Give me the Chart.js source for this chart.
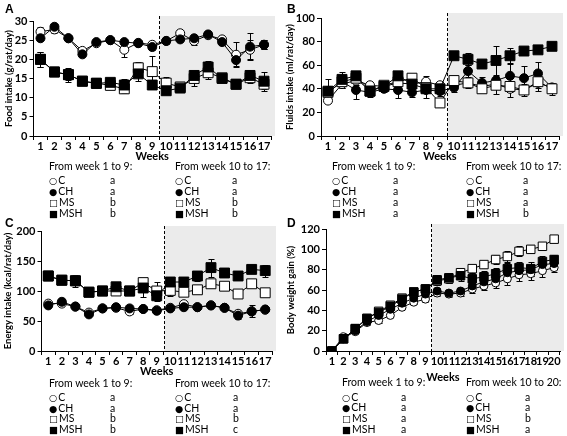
<!DOCTYPE html>
<html><head><meta charset="utf-8">
<script src="https://cdn.jsdelivr.net/npm/chart.js@4.4.1/dist/chart.umd.min.js"></script>
<style>
body{margin:0;background:#fff;width:567px;height:436px;position:relative;overflow:hidden;}
canvas{position:absolute;}
.lbl{position:absolute;font:bold 12px "Liberation Sans",Arial,sans-serif;color:#000;}
.lg{position:absolute;font:10.5px Lato,sans-serif;color:#000;white-space:nowrap;line-height:12px;}
.sym{font:9.5px "DejaVu Sans",sans-serif;margin-right:1px;}
</style></head><body>
<script>
// ---------------- DATA ----------------
const weeks17 = ['1','2','3','4','5','6','7','8','9','10','11','12','13','14','15','16','17'];
const weeks20 = ['1','2','3','4','5','6','7','8','9','10','11','12','13','14','15','16','17','18','19','20'];
const groups = ['C','CH','MS','MSH'];
const groupSymbols = ['○','●','□','■'];

// A: Food intake (g/rat/day)
const foodC   = [27.2,27.8,25.5,22.2,24.2,25.0,22.5,24.3,23.8,24.8,26.8,24.8,26.3,25.2,21.2,22.5,23.8];
const foodCH  = [25.5,28.5,25.5,21.3,24.5,25.0,24.5,24.2,23.2,24.8,25.2,25.5,26.5,24.5,19.8,23.3,23.8];
const foodMS  = [20.0,16.7,16.0,14.3,13.8,13.2,12.3,17.8,16.8,13.8,12.8,15.0,16.5,15.2,13.5,15.2,13.5];
const foodMSH = [20.0,16.7,16.0,14.3,13.7,14.0,13.3,16.2,13.3,11.8,12.5,15.8,18.0,15.0,13.5,15.8,14.3];
const foodCErr   = [1.2,0.8,0.5,0.6,0.5,0.5,1.8,0.6,0.8,0.8,0.8,1.0,0.8,0.8,3.2,2.5,1.2];
const foodCHErr  = [0.8,0.8,0.5,0.6,0.5,0.5,0.8,0.6,0.8,0.8,0.8,0.8,0.8,0.8,1.5,3.5,1.2];
const foodMSErr  = [2.0,0.8,1.5,0.8,0.5,0.8,1.0,1.5,4.0,1.5,0.8,2.0,1.5,1.0,0.5,1.5,1.2];
const foodMSHErr = [2.0,0.8,1.8,0.8,0.5,0.8,1.5,1.8,1.0,0.8,0.8,1.0,1.5,1.0,0.5,1.5,2.5];

// B: Fluids intake (ml/rat/day)
const fluidC   = [30,44,47,43,42,45,44,46,43,43,45,42,44,40,39,45,41];
const fluidCH  = [37,46,39,37,40,39,37,39,38,41,55,45,47,51,49,53,41];
const fluidMS  = [37,46,49,38,43,46,49,41,28,47,45,40,43,42,39,46,40];
const fluidMSH = [38,48,51,38,42,51,44,40,40,68,65,61,64,68,72,73,76];
const fluidCErr   = [2,3,4,2,2,3,3,5,3,3,3,3,3,3,3,4,3];
const fluidCHErr  = [4,5,8,4,3,7,4,7,4,4,5,5,4,11,10,10,4];
const fluidMSErr  = [5,4,4,3,3,4,3,4,3,4,4,3,7,9,5,8,5];
const fluidMSHErr = [10,6,4,4,3,3,4,3,4,3,5,3,12,7,3,3,3];

// C: Energy intake (kcal/rat/day)
const energyC   = [79,79,74,64,71,72,66,70,68,72,78,73,76,72,62,66,69];
const energyCH  = [76,82,74,61,71,73,71,70,67,71,73,73,76,72,59,66,69];
const energyMS  = [125,118,117,98,100,100,100,114,100,101,98,102,112,108,95,112,97];
const energyMSH = [125,118,117,98,100,107,100,105,92,115,115,125,139,130,125,136,134];
const energyCErr   = [4,3,3,3,3,3,5,3,3,3,3,3,3,3,6,4,3];
const energyCHErr  = [4,3,3,3,3,3,3,3,3,3,3,3,3,3,5,10,3];
const energyMSErr  = [5,5,5,5,4,6,5,6,15,10,5,5,5,4,4,5,4];
const energyMSHErr = [5,5,10,5,4,6,5,15,8,6,5,8,15,5,4,5,10];

// D: Body weight gain (%)
const bwgC   = [0,14,19,28,30,35,43,48,51,57,56,57,61,64,67,71,75,76,79,82];
const bwgCH  = [0,12,20,29,35,41,47,52,56,59,57,59,64,68,71,77,79,80,85,86];
const bwgMS  = [0,12,22,32,39,45,52,58,61,69,71,77,81,85,90,93,98,100,103,110];
const bwgMSH = [0,12,22,32,38,44,51,58,61,70,72,74,71,73,76,81,82,81,88,90];
const bwgCErr   = [0,1,2,2,2,2,2,2,3,3,3,3,4,4,5,6,6,6,6,4];
const bwgCHErr  = [0,1,2,2,2,2,2,2,3,3,3,3,4,4,5,5,5,6,5,4];
const bwgMSErr  = [0,1,2,2,2,2,2,2,3,4,4,4,4,3,4,5,5,4,3,2];
const bwgMSHErr = [0,1,2,2,2,2,2,2,3,5,5,5,6,6,6,6,6,7,5,4];

// statistical letters
const lettersA1 = ['a','a','b','b'], lettersA2 = ['a','a','b','b'];
const lettersB1 = ['a','a','a','a'], lettersB2 = ['a','a','a','b'];
const lettersC1 = ['a','a','b','b'], lettersC2 = ['a','a','b','c'];
const lettersD1 = ['a','a','a','a'], lettersD2 = ['a','a','b','a'];
const period1 = 'From week 1 to 9:';
const period2_17 = 'From week 10 to 17:';
const period2_20 = 'From week 10 to 20:';

// ---------------- RENDERING ----------------
const FONT = 'Lato, "Liberation Sans", sans-serif';

const shadePlugin = {
  id:'shade',
  beforeDraw(chart){
    const {ctx, chartArea:a, scales:{x}} = chart;
    const sx = Math.round((x.getPixelForValue(8)+x.getPixelForValue(9))/2)+0.5;
    const top = a.top - 5;
    ctx.save();
    ctx.fillStyle = '#ebebeb';
    ctx.fillRect(sx, top, a.right + 4 - sx, a.bottom - top);
    ctx.setLineDash([3,2]);
    ctx.strokeStyle = '#000'; ctx.lineWidth = 1;
    ctx.beginPath(); ctx.moveTo(sx, top); ctx.lineTo(sx, a.bottom); ctx.stroke();
    ctx.restore();
  }
};
const errorPlugin = {
  id:'errbars',
  beforeDatasetsDraw(chart){
    const {ctx, scales:{y}} = chart;
    ctx.save(); ctx.strokeStyle = '#000'; ctx.lineWidth = 1;
    chart.data.datasets.forEach((ds, di) => {
      if (!ds.errors) return;
      const meta = chart.getDatasetMeta(di);
      meta.data.forEach((pt, i) => {
        const e = ds.errors[i]; if (!e) return;
        const v = ds.data[i];
        const yt = Math.round(y.getPixelForValue(v + e)) + 0.5;
        const yb = Math.round(y.getPixelForValue(v - e)) + 0.5;
        const x = Math.round(pt.x) + 0.5;
        ctx.beginPath();
        ctx.moveTo(x, yt); ctx.lineTo(x, yb);
        ctx.moveTo(x - 3, yt); ctx.lineTo(x + 3, yt);
        ctx.moveTo(x - 3, yb); ctx.lineTo(x + 3, yb);
        ctx.stroke();
      });
    });
    ctx.restore();
  }
};

function makeDatasets(series, errs, rc, rs){
  const styles = [
    {pointStyle:'circle', bg:'#fff', r:rc, order:3},
    {pointStyle:'circle', bg:'#000', r:rc, order:2},
    {pointStyle:'rect',   bg:'#fff', r:rs, order:1},
    {pointStyle:'rect',   bg:'#000', r:rs, order:0}
  ];
  return series.map((d, i) => ({
    label: groups[i], data: d, errors: errs[i],
    borderColor:'#000', borderWidth:1, tension:0,
    pointStyle: styles[i].pointStyle, pointRadius: styles[i].r,
    pointBackgroundColor: styles[i].bg, pointBorderColor:'#000', pointBorderWidth:1,
    order: styles[i].order
  }));
}

function makeChart(box, labels, yTitle, yMax, yStep, series, errs, rc, rs){
  const cv = document.createElement('canvas');
  cv.width = box.w; cv.height = box.h;
  cv.style.left = box.x + 'px'; cv.style.top = box.y + 'px';
  cv.style.width = box.w + 'px'; cv.style.height = box.h + 'px';
  document.body.appendChild(cv);
  new Chart(cv, {
    type:'line',
    data:{labels, datasets: makeDatasets(series, errs, rc, rs)},
    plugins:[shadePlugin, errorPlugin],
    options:{
      responsive:false, animation:false, devicePixelRatio:1,
      layout:{padding:{top:box.t, right:box.w - box.r, left:0, bottom:0}},
      plugins:{legend:{display:false}, tooltip:{enabled:false}},
      scales:{
        x:{
          type:'category', offset:true,
          grid:{offset:true, drawOnChartArea:false, drawTicks:true, tickLength:4, color:'#000'},
          border:{color:'#000', width:1},
          ticks:{autoSkip:false, maxRotation:0, minRotation:0, padding:0, color:'#000',
                 font:{family:FONT, size:11, weight:'bold'}},
          title:{display:true, text:'Weeks', color:'#000', padding:{top:0, bottom:0},
                 font:{family:FONT, size:11, weight:'bold'}},
          afterFit(s){ s.height = box.h - box.b; }
        },
        y:{
          min:0, max:yMax,
          grid:{drawOnChartArea:false, drawTicks:true, tickLength:4, color:'#000'},
          border:{color:'#000', width:1},
          ticks:{stepSize:yStep, padding:2, color:'#000', font:{family:FONT, size:11, weight:'bold'}},
          title:{display:true, text:yTitle, color:'#000', padding:{top:box.tp, bottom:0},
                 font:{family:FONT, size:9.5, weight:'bold'}},
          afterFit(s){ s.width = box.l; }
        }
      }
    }
  });
}

function addText(text, x, cy, sym){
  const d = document.createElement('div');
  d.className = 'lg';
  if (sym) {
    const s = document.createElement('span'); s.className = 'sym'; s.textContent = sym;
    d.appendChild(s);
  }
  d.appendChild(document.createTextNode(text));
  d.style.left = x + 'px'; d.style.top = (cy - 6) + 'px';
  document.body.appendChild(d);
}
function addLegend(pos, head1, head2, l1, l2){
  addText(head1, pos.x1, pos.yh);
  addText(head2, pos.x2, pos.yh);
  groups.forEach((g, i) => {
    addText(g, pos.x1, pos.rows[i], groupSymbols[i]);
    addText(l1[i], pos.xa1, pos.rows[i]);
    addText(g, pos.x2, pos.rows[i], groupSymbols[i]);
    addText(l2[i], pos.xa2, pos.rows[i]);
  });
}

makeChart({x:0,   y:0,   w:283, h:163, l:33.5, r:271, t:21, b:136, tp:3},
  weeks17, 'Food intake (g/rat/day)', 30, 5,
  [foodC, foodCH, foodMS, foodMSH], [foodCErr, foodCHErr, foodMSErr, foodMSHErr], 4.5, 7);
makeChart({x:283, y:0,   w:284, h:163, l:38, r:279, t:18, b:136, tp:1},
  weeks17, 'Fluids intake (ml/rat/day)', 100, 20,
  [fluidC, fluidCH, fluidMS, fluidMSH], [fluidCErr, fluidCHErr, fluidMSErr, fluidMSHErr], 4.5, 7);
makeChart({x:0,   y:215, w:283, h:163, l:41.5, r:272, t:16, b:136, tp:2},
  weeks17, 'Energy intake (kcal/rat/day)', 200, 50,
  [energyC, energyCH, energyMS, energyMSH], [energyCErr, energyCHErr, energyMSErr, energyMSHErr], 4.5, 7);
makeChart({x:283, y:215, w:284, h:169, l:43, r:281, t:14, b:136, tp:2},
  weeks20, 'Body weight gain (%)', 120, 20,
  [bwgC, bwgCH, bwgMS, bwgMSH], [bwgCErr, bwgCHErr, bwgMSErr, bwgMSHErr], 4, 6);

addLegend({x1:49, xa1:110, x2:175, xa2:232, yh:166, rows:[180,191,202,213]}, period1, period2_17, lettersA1, lettersA2);
addLegend({x1:332, xa1:393, x2:466, xa2:523, yh:166, rows:[180,191,202,213]}, period1, period2_17, lettersB1, lettersB2);
addLegend({x1:49, xa1:110, x2:175, xa2:233, yh:383, rows:[397,408,418,429]}, period1, period2_17, lettersC1, lettersC2);
addLegend({x1:342, xa1:401, x2:466, xa2:525, yh:382, rows:[397,407,418,429]}, period1, period2_20, lettersD1, lettersD2);

[['A',5,2],['B',287,2],['C',5,216],['D',287,216]].forEach(([t,x,y]) => {
  const d = document.createElement('div'); d.className='lbl'; d.textContent=t;
  d.style.left = x+'px'; d.style.top = y+'px'; document.body.appendChild(d);
});
</script>
</body></html>
